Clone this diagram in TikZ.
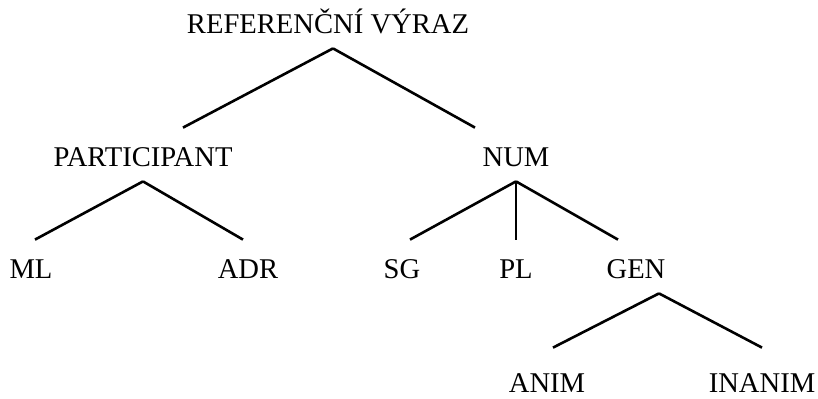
\documentclass[tikz,border=0pt]{standalone}
\usepackage{fontspec}
\setmainfont{Liberation Serif}
\usepackage{tikz}
\usetikzlibrary{positioning}
\tikzset{
    base/.style={
        font=\fontsize{14.3}{16}\selectfont,
        inner sep=0pt,
        anchor=base
    },
    cat/.style={
        base,
        text height=19pt,
        text depth=7.5pt
    },
    leaf/.style={
        base,
        text height=22pt,
        text depth=0pt
    },
    branch/.style={
        line width=1.3pt,
        color=black
    }
}
\begin{document}
\begin{tikzpicture}[x=0.5pt, y=-0.5pt]
  \useasboundingbox (0,0) rectangle (818,398);

  % Nodes
  \node[cat] (ref) at (328,33) {REFERENČNÍ VÝRAZ};
  \node[cat] (part) at (143,166) {PARTICIPANT};
  \node[cat] (num) at (516,166) {NUM};
  \node[cat] (ml) at (31,278) {ML};
  \node[cat] (adr) at (248,278) {ADR};
  \node[cat] (sg) at (402,278) {SG};
  \node[cat] (pl) at (516,278) {PL};
  \node[cat] (gen) at (636,278) {GEN};
  \node[leaf] (anim) at (547,392) {ANIM};
  \node[leaf] (inanim) at (762,392) {INANIM};

  % Connections
  \draw[branch] ([xshift=2.5pt]ref.south) -- ([xshift=20pt]part.north);
  \draw[branch] ([xshift=2.5pt]ref.south) -- ([xshift=-20.5pt]num.north);
  \draw[branch] (part.south) -- ([xshift=2pt]ml.north);
  \draw[branch] (part.south) -- ([xshift=-2.5pt]adr.north);
  \draw[branch] (num.south) -- ([xshift=4pt]sg.north);
  \draw[branch] (num.south) -- (pl.north);
  \draw[branch] (num.south) -- ([xshift=-9pt]gen.north);
  \draw[branch] ([xshift=11.5pt]gen.south) -- ([xshift=3pt]anim.north);
  \draw[branch] ([xshift=11.5pt]gen.south) -- (inanim.north);

\end{tikzpicture}
\end{document}
